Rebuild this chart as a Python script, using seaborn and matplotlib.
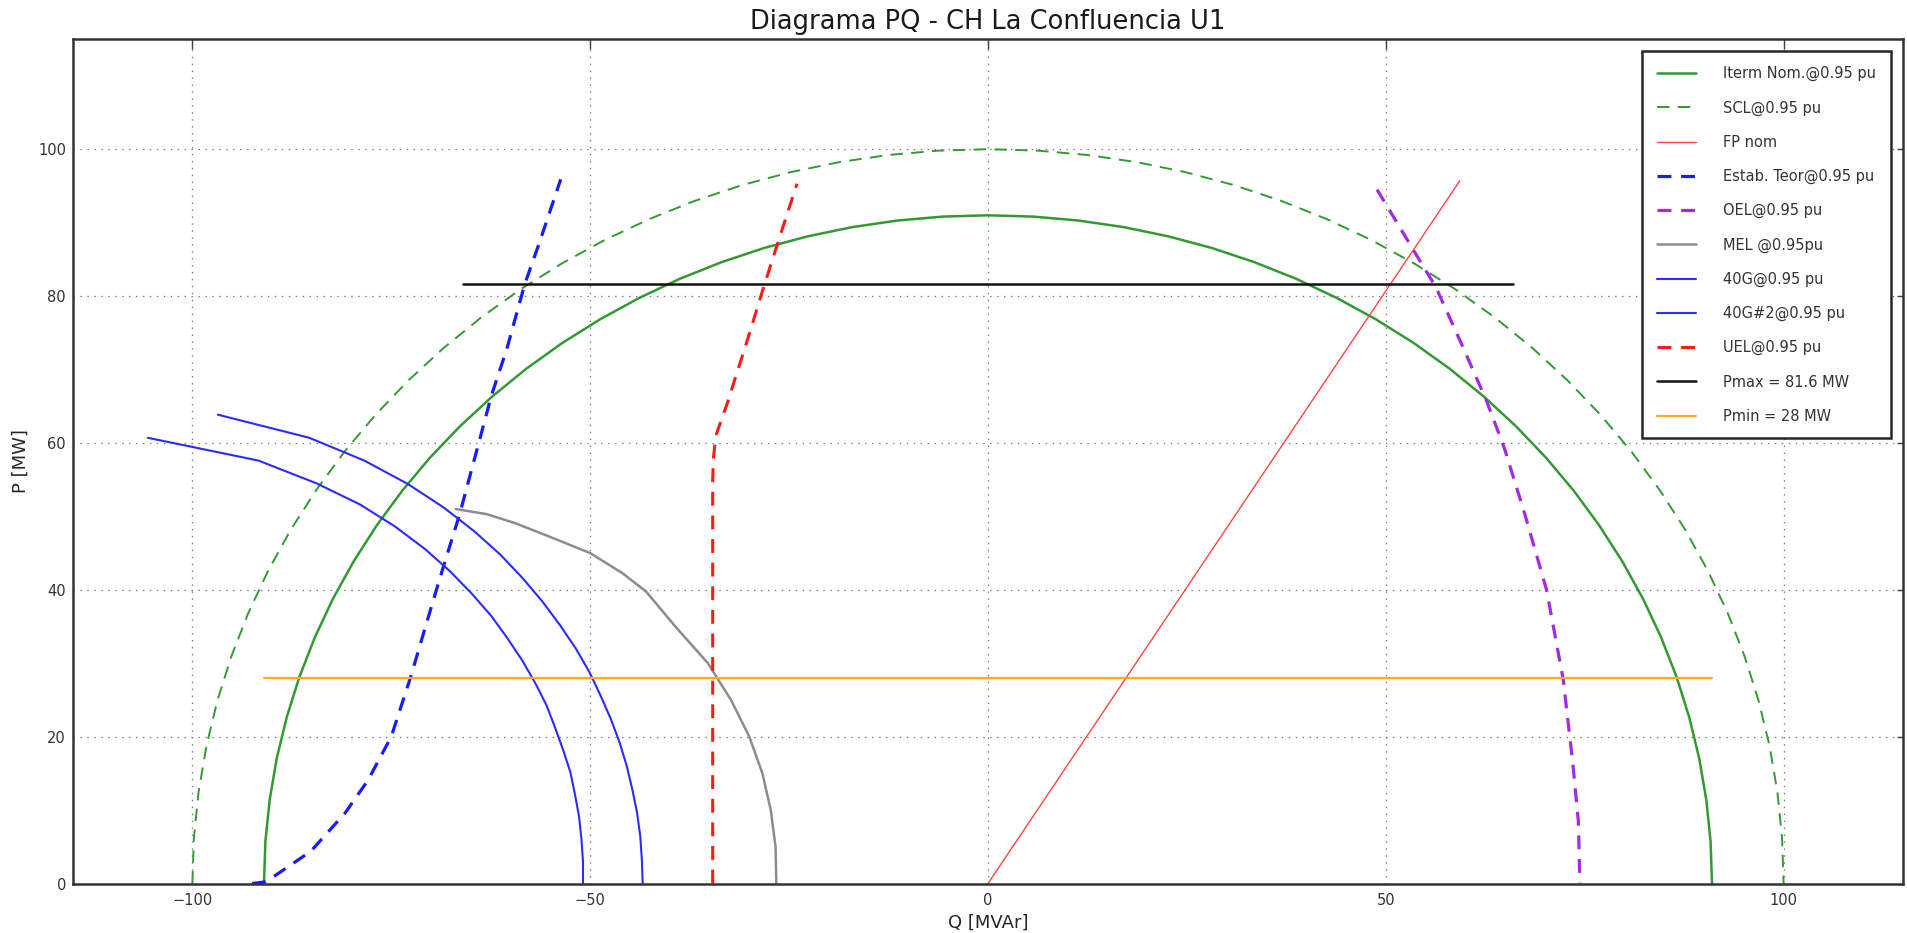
import matplotlib
matplotlib.use("Agg")
import matplotlib.pyplot as plt
import seaborn as sns

# ---- capability curves of the unit (Q in MVAr, P in MW) ----
iterm_q = [-91.0, -90.82, -90.28, -89.39, -88.14, -86.55, -84.61, -82.34, -79.74, -76.83,
           -73.62, -70.12, -66.34, -62.29, -58.01, -53.49, -48.76, -43.84, -38.75, -33.50,
           -28.12, -22.63, -17.05, -11.41, -5.71, 0.0, 5.71, 11.41, 17.05, 22.63,
           28.12, 33.50, 38.75, 43.84, 48.76, 53.49, 58.01, 62.29, 66.34, 70.12,
           73.62, 76.83, 79.74, 82.34, 84.61, 86.55, 88.14, 89.39, 90.28, 90.82, 91.0]
iterm_p = [0.0, 5.71, 11.41, 17.05, 22.63, 28.12, 33.50, 38.75, 43.84, 48.76,
           53.49, 58.01, 62.29, 66.34, 70.12, 73.62, 76.83, 79.74, 82.34, 84.61,
           86.55, 88.14, 89.39, 90.28, 90.82, 91.0, 90.82, 90.28, 89.39, 88.14,
           86.55, 84.61, 82.34, 79.74, 76.83, 73.62, 70.12, 66.34, 62.29, 58.01,
           53.49, 48.76, 43.84, 38.75, 33.50, 28.12, 22.63, 17.05, 11.41, 5.71, 0.0]

scl_q = [-100.0, -99.80, -99.21, -98.23, -96.86, -95.11, -92.98, -90.48, -87.63, -84.43,
         -80.90, -77.05, -72.90, -68.45, -63.74, -58.78, -53.58, -48.18, -42.58, -36.81,
         -30.90, -24.87, -18.74, -12.53, -6.28, 0.0, 6.28, 12.53, 18.74, 24.87,
         30.90, 36.81, 42.58, 48.18, 53.58, 58.78, 63.74, 68.45, 72.90, 77.05,
         80.90, 84.43, 87.63, 90.48, 92.98, 95.11, 96.86, 98.23, 99.21, 99.80, 100.0]
scl_p = [0.0, 6.28, 12.53, 18.74, 24.87, 30.90, 36.81, 42.58, 48.18, 53.58,
         58.78, 63.74, 68.45, 72.90, 77.05, 80.90, 84.43, 87.63, 90.48, 92.98,
         95.11, 96.86, 98.23, 99.21, 99.80, 100.0, 99.80, 99.21, 98.23, 96.86,
         95.11, 92.98, 90.48, 87.63, 84.43, 80.90, 77.05, 72.90, 68.45, 63.74,
         58.78, 53.58, 48.18, 42.58, 36.81, 30.90, 24.87, 18.74, 12.53, 6.28, 0.0]

fp_q = [0.0, 59.3]
fp_p = [0.0, 95.7]

estab_q = [-92.5, -91.0, -89.7, -85.1, -80.8, -77.9, -75.0, -72.6, -70.2, -68.6,
           -66.4, -64.0, -62.4, -60.5, -58.2, -56.4, -53.7]
estab_p = [0.0, 0.2, 1.0, 4.4, 9.6, 14.1, 20.0, 28.0, 36.8, 42.6,
           50.3, 60.0, 66.5, 72.7, 81.7, 87.2, 95.9]

oel_q = [48.9, 53.4, 56.3, 59.3, 62.6, 64.9, 67.5, 70.2, 72.3, 73.5, 74.2, 74.4]
oel_p = [94.5, 86.4, 81.2, 74.0, 65.9, 59.3, 50.2, 40.0, 27.8, 16.4, 8.5, 0.0]

mel_q = [-66.9, -63.0, -59.5, -55.5, -50.0, -46.0, -43.0, -39.3, -35.2, -32.3,
         -30.0, -28.35, -27.3, -26.7, -26.6]
mel_p = [51.0, 50.3, 49.1, 47.4, 45.0, 42.3, 39.8, 35.0, 30.0, 25.0,
         20.0, 15.0, 10.0, 5.0, 0.0]

g40_q = [-105.6, -91.7, -84.4, -78.9, -74.5, -70.7, -67.6, -64.9, -62.4, -60.4,
         -58.55, -56.9, -55.5, -54.4, -53.4, -52.5, -51.9, -51.4, -51.1, -50.9, -50.9]
g40_p = [60.7, 57.6, 54.5, 51.6, 48.6, 45.5, 42.5, 39.5, 36.4, 33.4,
         30.4, 27.3, 24.3, 21.2, 18.2, 15.2, 12.1, 9.1, 6.1, 3.0, 0.0]

g40b_q = [-96.8, -85.3, -78.4, -72.9, -68.4, -64.6, -61.3, -58.5, -56.0, -53.8,
          -51.8, -50.1, -48.7, -47.4, -46.3, -45.4, -44.7, -44.1, -43.7, -43.5, -43.4]
g40b_p = [63.85, 60.7, 57.6, 54.4, 51.2, 48.0, 44.8, 41.6, 38.4, 35.2,
          32.0, 28.8, 25.6, 22.4, 19.2, 16.0, 12.8, 9.6, 6.4, 3.2, 0.0]

uel_q = [-34.6, -34.6, -34.6, -34.5, -34.2, -32.8, -30.3, -28.4, -26.4, -24.0]
uel_p = [0.0, 30.0, 55.0, 58.0, 61.0, 65.3, 73.8, 80.5, 87.3, 95.3]

pmax_q = [-66.0, 66.0]
pmax_p = [81.6, 81.6]
pmin_q = [-91.0, 91.0]
pmin_p = [28.0, 28.0]

x_ticks = [-100, -50, 0, 50, 100]
y_ticks = [0, 20, 40, 60, 80, 100]

sns.set_style("white")
plt.rcParams.update({
    "font.family": ["DejaVu Sans"],
    "lines.scale_dashes": False,
    "xtick.direction": "in",
    "ytick.direction": "in",
    "xtick.top": True,
    "ytick.right": True,
})

fig = plt.figure(figsize=(19.08, 9.33), dpi=100)
ax = fig.add_axes([0.03826, 0.05305, 0.9591, 0.9051])


def curve(q, p, label, color, lw, ls="-"):
    sns.lineplot(x=q, y=p, sort=False, estimator=None, ax=ax, color=color,
                 linewidth=lw, linestyle=ls, label=label)


curve(iterm_q, iterm_p, "Iterm Nom.@0.95 pu", "#339933", 1.8)
curve(scl_q, scl_p, "SCL@0.95 pu", "#339933", 1.4, (0, (9, 6)))
curve(fp_q, fp_p, "FP nom", "#ff4444", 1.0)
curve(estab_q, estab_p, "Estab. Teor@0.95 pu", "#1a1aff", 2.3, (0, (10, 7)))
curve(oel_q, oel_p, "OEL@0.95 pu", "#a22be0", 2.3, (0, (10, 7)))
curve(mel_q, mel_p, "MEL @0.95pu", "#8c8c8c", 1.8)
curve(g40_q, g40_p, "40G@0.95 pu", "#2b2bff", 1.5)
curve(g40b_q, g40b_p, "40G#2@0.95 pu", "#2b2bff", 1.5)
curve(uel_q, uel_p, "UEL@0.95 pu", "#ff1a1a", 2.2, (0, (10, 7)))
curve(pmax_q, pmax_p, "Pmax = 81.6 MW", "#111111", 1.8)
curve(pmin_q, pmin_p, "Pmin = 28 MW", "#ffaa22", 1.6)

ax.set_xlim(-115, 115)
ax.set_ylim(0, 115)
ax.set_xticks(x_ticks)
ax.set_yticks(y_ticks)
ax.grid(True, color="0.45", linestyle=(0, (1, 4)), linewidth=0.9)
ax.tick_params(axis="x", length=7, width=1, color="0.25", labelsize=10.5, labelcolor="0.2", pad=7)
ax.tick_params(axis="y", length=4.5, width=1, color="0.25", labelsize=10.5, labelcolor="0.2", pad=5)
for sp in ax.spines.values():
    sp.set_linewidth(1.8)
    sp.set_color("0.2")

ax.set_title("Diagrama PQ - CH La Confluencia U1", fontsize=18.5, color="0.1", pad=7)
ax.set_xlabel("Q [MVAr]", fontsize=13, color="0.15", labelpad=4)
ax.set_ylabel("P [MW]", fontsize=13, color="0.15", labelpad=6)

leg = ax.legend(loc="upper right", fontsize=10.5, labelspacing=1.31, handlelength=2.7,
                handletextpad=1.85, borderpad=1.0, borderaxespad=0.85,
                fancybox=False, framealpha=1)
leg.get_frame().set_edgecolor("0.15")
leg.get_frame().set_linewidth(1.8)
for t in leg.get_texts():
    t.set_color("0.2")

fig.savefig("out.png", dpi=100, facecolor="white")
